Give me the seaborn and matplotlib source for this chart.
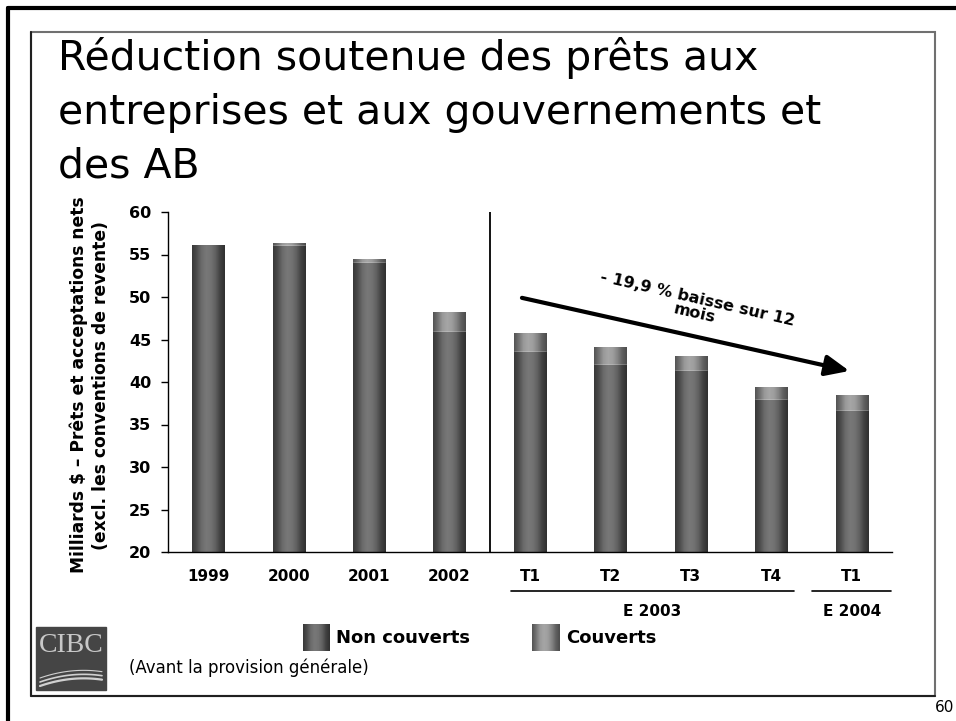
import numpy as np
import matplotlib
matplotlib.use('Agg')
import matplotlib.pyplot as plt
import matplotlib.patches as mpatches
from matplotlib.transforms import blended_transform_factory
import seaborn as sns

# --- données (milliards $) ---
periodes = ['1999', '2000', '2001', '2002', 'T1 03', 'T2 03', 'T3 03', 'T4 03', 'T1 04']
etiquettes = ['1999', '2000', '2001', '2002', 'T1', 'T2', 'T3', 'T4', 'T1']
non_couverts = [56.1, 56.0, 54.0, 45.9, 43.5, 42.0, 41.3, 37.9, 36.6]
couverts = [0.0, 0.35, 0.5, 2.3, 2.3, 2.1, 1.75, 1.5, 1.9]
groupes = ['E 2003', 'E 2004']
titre = "Réduction soutenue des prêts aux\nentreprises et aux gouvernements et\ndes AB"
ylabel = "Milliards $ – Prêts et acceptations nets\n(excl. les conventions de revente)"
fleche_txt = "- 19,9 % baisse sur 12\nmois"

totaux = [a + b for a, b in zip(non_couverts, couverts)]
YMIN, YMAX = 20, 60

sns.set_theme(style='white')
plt.rcParams['font.family'] = ['DejaVu Sans']
plt.rcParams['text.color'] = 'black'
plt.rcParams['axes.labelcolor'] = 'black'

# profils de gris pour l'effet "cylindre"
prof_nc = np.array([0.22, 0.30, 0.42, 0.47, 0.45, 0.38, 0.26, 0.19])
prof_c = np.array([0.33, 0.45, 0.60, 0.65, 0.62, 0.52, 0.38, 0.30])


def gradient(profil, n=64):
    t = np.linspace(0, 1, n)
    g = np.interp(t, np.linspace(0, 1, len(profil)), profil)
    return np.tile(g, (2, 1))


W, H = 956, 721
fig = plt.figure(figsize=(W / 100, H / 100), dpi=100)

def fx(px):
    return px / W

def fy(py):
    return 1 - py / H

ax = fig.add_axes([fx(168), fy(552), fx(892) - fx(168), fy(212) - fy(552)])

sns.barplot(x=periodes, y=totaux, order=periodes, color='#999999', width=0.4,
            errorbar=None, ax=ax, zorder=2)
sns.barplot(x=periodes, y=non_couverts, order=periodes, color='#555555', width=0.4,
            errorbar=None, ax=ax, zorder=3)

# on remplace le remplissage uni par un dégradé horizontal
for i, p in enumerate(ax.patches):
    x0, y0 = p.get_x(), max(p.get_y(), YMIN)
    w, y1 = p.get_width(), p.get_y() + p.get_height()
    prof = prof_c if i < len(periodes) else prof_nc
    im = ax.imshow(gradient(prof), cmap='gray', vmin=0, vmax=1, aspect='auto',
                   extent=[x0, x0 + w, y0, y1], zorder=p.get_zorder() + 0.5,
                   interpolation='bilinear')
    im.set_clip_path(p)

ax.set_xlim(-0.5, len(periodes) - 0.5)
ax.set_ylim(YMIN, YMAX)
ax.set_yticks(range(YMIN, YMAX + 1, 5))
ax.set_xticks(range(len(periodes)))
ax.set_xticklabels(etiquettes)
ax.set_xlabel('')
for s in ['top', 'right']:
    ax.spines[s].set_visible(False)
for s in ['left', 'bottom']:
    ax.spines[s].set_color('black')
    ax.spines[s].set_linewidth(1)
    ax.spines[s].set_zorder(6)
ax.tick_params(axis='y', left=True, direction='out', length=5, width=1, pad=7,
               labelsize=11.5, colors='black')
ax.tick_params(axis='x', bottom=False, pad=6, labelsize=11, colors='black')
for lab in ax.get_xticklabels() + ax.get_yticklabels():
    lab.set_fontweight('bold')

# séparation années / trimestres
ax.axvline(3.5, color='black', lw=1.3, zorder=4)

# flèche de tendance
ax.annotate('', xy=(7.97, 41.3), xytext=(3.90, 49.9),
            arrowprops=dict(arrowstyle='-|>,head_length=0.8,head_width=0.35',
                            lw=3, color='black', mutation_scale=18,
                            shrinkA=0, shrinkB=0), zorder=5)
ax.text(6.06, 48.9, fleche_txt, rotation=-13, rotation_mode='anchor',
        ha='center', va='center', multialignment='center',
        fontsize=11.5, fontweight='bold', zorder=5, linespacing=1.0)

# regroupements sous l'axe
tr = blended_transform_factory(ax.transData, ax.transAxes)
yl = (552 - 591) / 340
yt = (552 - 611) / 340
for (xa, xb), g in zip([(3.76, 7.28), (7.51, 8.49)], groupes):
    ax.plot([xa, xb], [yl, yl], transform=tr, color='black', lw=1.2, clip_on=False)
    ax.text((xa + xb) / 2, yt, g, transform=tr, ha='center', va='center',
            fontsize=11, fontweight='bold')

# titre et libellé vertical
lignes = titre.split('\n')
for k, py in enumerate([70, 124, 178]):
    fig.text(fx(58), fy(py), lignes[k], fontsize=29.5, va='baseline', ha='left')
fig.text(fx(90), fy(385), ylabel, rotation=90, ha='center', va='center',
         multialignment='center', fontsize=12.3, fontweight='bold', linespacing=1.25)

# légende faite à la main (carrés en dégradé)
for (x0, x1), prof, lab in [((303, 330), prof_nc, 'Non couverts'),
                            ((532, 560), prof_c, 'Couverts')]:
    sw = fig.add_axes([fx(x0), fy(651), fx(x1) - fx(x0), fy(624) - fy(651)])
    sw.imshow(gradient(prof), cmap='gray', vmin=0, vmax=1, aspect='auto',
              interpolation='bilinear')
    sw.axis('off')
    fig.text(fx(x1 + 6), fy(638), lab, fontsize=13, fontweight='bold', va='center')

fig.text(fx(129), fy(668), "(Avant la provision générale)", fontsize=12, va='center')

# logo CIBC simplifié
fig.patches.append(mpatches.Rectangle((fx(36), fy(690)), fx(106) - fx(36), fy(627) - fy(690),
                                      transform=fig.transFigure, color='#454545', zorder=1))
fig.text(fx(71), fy(646), 'CIBC', family='Liberation Serif', fontsize=20, color='#c8c8c8',
         ha='center', va='center', zorder=2)
for k in range(3):
    xs = np.linspace(40, 102, 30)
    ys = 686 - 4 * k - (xs - 40) * 0.35 + 0.004 * (xs - 40) ** 2
    fig.lines.append(plt.Line2D(fx(xs), fy(ys), transform=fig.transFigure,
                                color='#d0d0d0', lw=1.6 - 0.4 * k, zorder=2))

# cadres
fig.patches.append(mpatches.Rectangle((fx(31), fy(696)), fx(935) - fx(31), fy(32) - fy(696),
                                      transform=fig.transFigure, fill=False,
                                      edgecolor='#707070', lw=1.5))
fig.lines.append(plt.Line2D([fx(31), fx(31), fx(935)], [fy(32), fy(696), fy(696)],
                            transform=fig.transFigure, color='#202020', lw=1.5))
fig.lines.append(plt.Line2D([fx(8), fx(8)], [fy(8), 0], transform=fig.transFigure,
                            color='black', lw=3))
fig.lines.append(plt.Line2D([fx(8), 1], [fy(8), fy(8)], transform=fig.transFigure,
                            color='black', lw=3))
fig.text(fx(954), fy(707), '60', fontsize=11, va='center', ha='right')

fig.savefig('out.png', dpi=100)
